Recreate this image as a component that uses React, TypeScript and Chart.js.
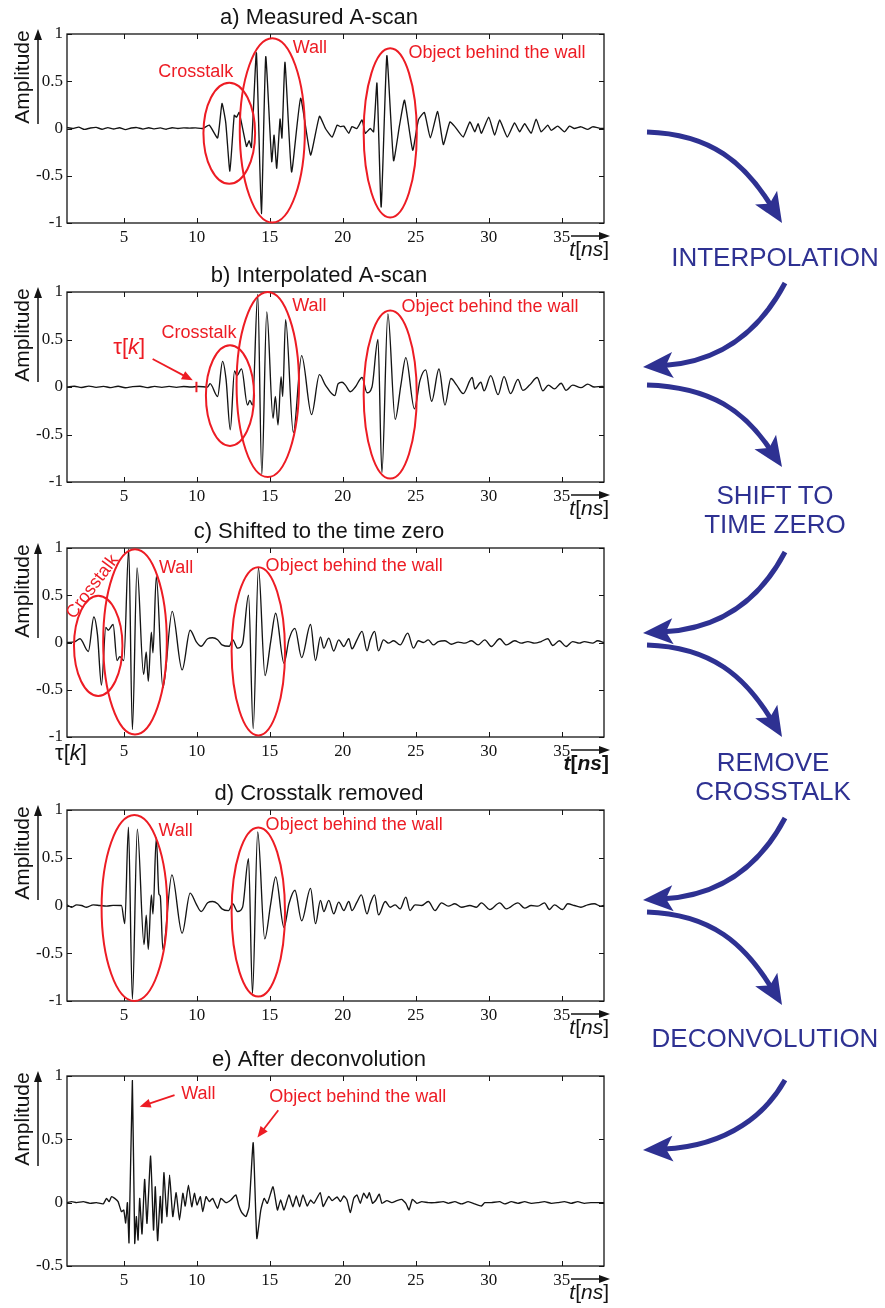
import React, { useEffect, useRef } from "react";
import { Chart, registerables } from "chart.js";

Chart.register(...registerables);

type Pt = [number, number];

const INK = "#141414";
const RED = "#ed1c24";
const BLUE = "#2e3192";
const SANS = '"Liberation Sans", Arial, Helvetica, sans-serif';
const SERIF = '"Liberation Serif", "Times New Roman", serif';

// Shared axis values (time in ns, normalised amplitude)
const timeTicks = [5, 10, 15, 20, 25, 30, 35];
const timeMin = 1.1;
const timeMax = 37.9;
const ampTicks = [-1, -0.5, 0, 0.5, 1];
const ampTicksDeconv = [-0.5, 0, 0.5, 1];

// a) raw measured A-scan: [time ns, amplitude]
const measuredScan: Pt[] = [
  [1.1, 0.01], [1.5, 0.0], [1.9, 0.015], [2.3, -0.01], [2.7, 0.005], [3.1, 0.012], [3.5, -0.008], [3.9, 0.01],
  [4.3, -0.005], [4.7, 0.008], [5.1, -0.012], [5.5, 0.005], [5.9, 0.01], [6.3, -0.006], [6.7, 0.008], [7.1, -0.004],
  [7.5, 0.006], [7.9, -0.008], [8.3, 0.008], [8.7, 0.0], [9.1, 0.006], [9.5, 0.004], [9.9, 0.006], [10.4, 0.0],
  [10.85, 0.035], [11.42, -0.1], [11.72, 0.265], [11.98, 0.06], [12.26, -0.45], [12.56, 0.14], [12.72, 0.12], [12.9, 0.17],
  [13.4, -0.19], [13.58, -0.13], [13.74, -0.2], [14.08, 0.8], [14.42, -0.9], [14.72, 0.76], [15.13, -0.35], [15.29, -0.07],
  [15.47, -0.42], [15.7, 0.1], [15.83, -0.1], [16.04, 0.7], [16.49, -0.46], [17.11, 0.32], [17.79, -0.28], [18.4, 0.13],
  [18.81, 0.0], [19.27, -0.09], [19.61, 0.035], [19.84, 0.02], [20.07, 0.025], [20.41, -0.05], [20.63, 0.02], [20.97, 0.0],
  [21.32, 0.09], [21.54, -0.05], [21.88, 0.0], [22.11, -0.035], [22.34, 0.48], [22.63, -0.83], [23.02, 0.77], [23.48, -0.34],
  [23.89, 0.035], [24.23, 0.3], [24.79, -0.23], [25.18, 0.09], [25.59, 0.17], [26.0, -0.1], [26.5, 0.18], [26.89, -0.17],
  [27.34, 0.07], [27.68, 0.02], [28.25, -0.09], [28.71, 0.07], [29.05, -0.035], [29.27, 0.05], [29.5, -0.05], [30.0, 0.12],
  [30.41, -0.07], [30.75, 0.09], [31.27, -0.09], [31.77, 0.06], [32.12, -0.035], [32.46, 0.05], [32.91, -0.05], [33.25, 0.1],
  [33.59, -0.035], [34.05, 0.035], [34.28, -0.02], [34.73, 0.025], [35.19, -0.035], [35.53, 0.025], [35.87, 0.0], [36.32, 0.018],
  [36.78, -0.01], [37.12, 0.018], [37.69, 0.0], [37.9, 0.0],
];

// b) interpolated A-scan
const interpolatedScan: Pt[] = [
  [1.1, 0.0], [1.6, 0.008], [2.1, -0.005], [2.6, 0.01], [3.1, -0.004], [3.6, 0.006], [4.1, -0.006], [4.6, 0.008],
  [5.1, -0.008], [5.6, 0.004], [6.1, 0.008], [6.6, -0.006], [7.1, 0.006], [7.6, -0.004], [8.1, 0.006], [8.6, -0.004],
  [9.1, 0.005], [9.6, 0.0], [10.1, 0.005], [10.74, 0.0], [10.9, 0.035], [11.42, -0.1], [11.76, 0.27], [12.0, 0.08],
  [12.29, -0.45], [12.58, 0.17], [12.74, 0.12], [13.06, 0.19], [13.47, -0.19], [13.63, -0.14], [13.81, -0.19], [14.17, 0.975],
  [14.45, -0.92], [14.79, 0.79], [15.22, -0.33], [15.38, -0.1], [15.56, -0.4], [15.77, 0.11], [15.88, -0.1], [16.08, 0.71],
  [16.61, -0.48], [17.18, 0.33], [17.86, -0.29], [18.4, 0.13], [18.81, 0.02], [19.45, -0.09], [19.68, 0.035], [19.95, 0.05],
  [20.18, 0.02], [20.52, -0.05], [20.86, 0.0], [21.32, 0.1], [21.66, -0.06], [22.0, 0.0], [22.41, 0.5], [22.68, -0.9],
  [23.09, 0.77], [23.59, -0.34], [23.98, 0.02], [24.32, 0.31], [24.91, -0.23], [25.29, 0.07], [25.68, 0.18], [26.09, -0.15],
  [26.59, 0.19], [27.0, -0.19], [27.41, 0.09], [27.8, 0.02], [28.25, -0.07], [28.87, 0.1], [29.05, -0.02], [29.46, 0.05],
  [29.68, -0.04], [30.14, 0.12], [30.64, -0.08], [31.05, 0.11], [31.5, -0.07], [32.0, 0.08], [32.34, -0.035], [32.8, 0.02],
  [33.32, 0.1], [33.71, -0.04], [34.09, 0.02], [34.5, -0.02], [34.96, 0.04], [35.3, -0.035], [35.75, 0.02], [36.32, -0.007],
  [36.78, 0.03], [37.23, 0.0], [37.8, 0.007], [37.9, 0.0],
];

// c) A-scan shifted so that time zero sits at tau[k]
const shiftedScan: Pt[] = [
  [1.1, 0.0], [1.65, 0.01], [1.99, 0.04], [2.56, -0.095], [2.94, 0.27], [3.19, 0.08], [3.46, -0.45], [3.76, 0.16],
  [3.92, 0.13], [4.26, 0.19], [4.53, -0.19], [4.72, -0.15], [4.99, -0.19], [5.33, 0.99], [5.58, -0.92], [5.9, 0.79],
  [6.35, -0.34], [6.53, -0.1], [6.67, -0.41], [6.88, 0.11], [6.99, -0.11], [7.22, 0.7], [7.67, -0.48], [8.31, 0.33],
  [8.99, -0.29], [9.54, 0.13], [9.95, 0.01], [10.29, -0.04], [10.74, 0.04], [11.08, 0.05], [11.42, 0.03], [11.72, -0.025],
  [12.22, -0.04], [12.45, 0.03], [12.79, -0.06], [13.13, -0.01], [13.54, 0.5], [13.86, -0.91], [14.22, 0.79], [14.67, -0.35],
  [15.06, 0.01], [15.4, 0.31], [15.97, -0.22], [16.31, 0.03], [16.72, 0.15], [17.18, -0.16], [17.79, 0.19], [18.13, -0.19],
  [18.47, 0.06], [18.7, -0.06], [19.04, 0.046], [19.38, -0.09], [19.72, 0.028], [20.07, -0.042], [20.41, 0.04], [20.63, -0.067],
  [20.97, 0.028], [21.32, 0.117], [21.66, -0.088], [21.88, 0.028], [22.18, 0.117], [22.45, -0.088], [22.79, 0.028], [23.13, -0.007],
  [23.48, 0.018], [23.93, -0.025], [24.45, 0.1], [24.84, -0.06], [25.18, 0.018], [25.52, 0.0], [25.86, 0.028], [26.2, -0.025],
  [26.55, 0.01], [27.0, 0.018], [27.45, -0.018], [27.91, 0.004], [28.36, -0.007], [28.82, 0.018], [29.27, -0.025], [29.73, 0.028],
  [30.18, -0.042], [30.75, 0.04], [31.21, -0.025], [31.78, 0.018], [32.23, -0.007], [32.68, 0.01], [33.14, -0.007], [33.59, 0.01],
  [34.05, 0.04], [34.39, -0.032], [34.84, 0.018], [35.3, -0.042], [35.75, 0.01], [36.21, -0.007], [36.55, 0.01], [37.12, -0.007],
  [37.46, 0.018], [37.9, 0.0],
];

// d) shifted A-scan with the crosstalk removed
const crosstalkFreeScan: Pt[] = [
  [1.1, 0.007], [1.42, -0.018], [1.76, 0.007], [2.1, 0.0], [2.44, -0.018], [2.9, 0.007], [3.35, 0.0], [3.81, -0.007],
  [4.26, 0.002], [4.83, 0.0], [5.06, -0.19], [5.31, 0.82], [5.58, -0.98], [5.92, 0.8], [6.38, -0.41], [6.53, -0.1],
  [6.67, -0.46], [6.88, 0.11], [6.99, -0.09], [7.22, 0.71], [7.4, 0.12], [7.49, 0.1], [7.67, -0.46], [8.29, 0.32],
  [8.99, -0.29], [9.54, 0.13], [9.95, 0.018], [10.29, -0.063], [10.74, 0.028], [11.08, 0.042], [11.42, 0.018], [11.72, -0.035],
  [12.17, -0.053], [12.45, 0.018], [12.79, -0.063], [13.13, -0.018], [13.54, 0.49], [13.81, -0.92], [14.17, 0.77], [14.65, -0.35],
  [15.06, 0.018], [15.4, 0.3], [15.97, -0.23], [16.31, 0.018], [16.72, 0.16], [17.18, -0.16], [17.79, 0.18], [18.13, -0.19],
  [18.47, 0.053], [18.7, -0.063], [19.04, 0.053], [19.38, -0.088], [19.72, 0.035], [20.07, -0.053], [20.41, 0.042], [20.63, -0.053],
  [20.97, 0.035], [21.27, 0.112], [21.66, -0.088], [21.88, 0.018], [22.18, 0.112], [22.45, -0.098], [22.91, 0.042], [23.25, -0.018],
  [23.59, 0.007], [23.93, -0.035], [24.32, 0.088], [24.61, -0.053], [24.95, 0.007], [25.41, 0.0], [25.86, 0.042], [26.32, -0.053],
  [26.77, 0.028], [27.23, -0.007], [27.68, 0.018], [28.14, -0.018], [28.71, 0.0], [29.16, -0.018], [29.5, 0.028], [30.07, -0.042],
  [30.75, 0.028], [31.21, -0.035], [32.0, 0.028], [32.46, -0.028], [32.91, 0.0], [33.37, -0.007], [33.82, 0.028], [34.16, -0.042],
  [34.5, 0.007], [35.07, -0.042], [35.41, 0.018], [35.87, 0.0], [36.32, -0.018], [36.78, 0.007], [37.23, 0.018], [37.69, -0.007],
  [37.9, 0.0],
];

// e) deconvolved trace
const deconvolvedScan: Pt[] = [
  [1.1, 0.0], [1.42, 0.008], [1.76, 0.0], [2.21, 0.008], [2.67, -0.005], [3.12, 0.0], [3.58, -0.01], [3.81, 0.034],
  [3.99, 0.008], [4.15, 0.047], [4.37, 0.034], [4.6, 0.008], [4.83, -0.071], [4.99, -0.058], [5.12, -0.16], [5.24, 0.0],
  [5.35, -0.316], [5.58, 0.963], [5.74, -0.321], [5.85, -0.11], [5.97, -0.295], [6.08, 0.034], [6.24, -0.247], [6.42, 0.184],
  [6.58, -0.163], [6.83, 0.368], [7.03, -0.216], [7.15, 0.126], [7.31, -0.3], [7.49, 0.05], [7.6, -0.16], [7.74, 0.237],
  [7.94, -0.11], [8.13, 0.218], [8.35, -0.11], [8.58, 0.079], [8.81, -0.137], [9.04, 0.074], [9.2, -0.026], [9.42, 0.139],
  [9.65, -0.032], [9.83, 0.074], [10.01, -0.018], [10.24, 0.047], [10.4, -0.071], [10.63, 0.047], [10.85, 0.008], [11.08, 0.034],
  [11.42, -0.045], [11.65, 0.034], [11.99, 0.0], [12.33, 0.021], [12.67, 0.061], [12.86, -0.018], [13.08, -0.079], [13.36, -0.11],
  [13.58, -0.032], [13.86, 0.474], [14.11, -0.282], [14.38, -0.058], [14.61, 0.034], [14.83, -0.005], [15.22, 0.126], [15.52, -0.058],
  [15.74, 0.021], [15.97, -0.058], [16.31, 0.061], [16.58, -0.032], [16.81, 0.053], [17.04, -0.032], [17.27, 0.061], [17.56, -0.026],
  [17.79, 0.021], [18.02, -0.005], [18.45, 0.079], [18.65, -0.03], [18.85, 0.01], [19.04, 0.05], [19.27, 0.016], [19.61, 0.045],
  [19.84, 0.008], [20.07, 0.053], [20.29, 0.021], [20.52, -0.079], [20.75, 0.034], [20.97, 0.061], [21.2, -0.005], [21.43, 0.074],
  [21.66, 0.034], [21.82, 0.079], [22.04, -0.005], [22.27, 0.021], [22.5, 0.068], [22.68, -0.005], [23.02, 0.016], [23.36, 0.0],
  [23.7, 0.016], [24.04, 0.026], [24.32, -0.005], [24.54, -0.058], [24.77, 0.026], [25.07, -0.005], [25.41, 0.008], [25.86, 0.0],
  [26.32, 0.0], [26.89, 0.008], [27.23, -0.005], [27.68, 0.008], [28.14, -0.01], [28.59, 0.008], [29.05, -0.01], [29.5, -0.026],
  [29.73, 0.0], [30.18, 0.0], [30.75, 0.008], [31.09, -0.01], [31.55, 0.008], [32.0, -0.005], [32.46, 0.008], [32.91, -0.005],
  [33.37, 0.0], [33.82, 0.008], [34.28, -0.005], [34.73, 0.0], [35.19, 0.008], [35.64, -0.005], [36.1, 0.008], [36.55, -0.005],
  [37.0, 0.0], [37.69, 0.0], [37.9, 0.0],
];

// Annotation shapes, all in data units (time, amplitude)
interface Ring { t: number; amp: number; rt: number; ra: number }
interface Note { text: string; t: number; amp: number; angle?: number }
interface Pointer { from: Pt; to: Pt }

interface PanelSpec {
  title: string;
  series: Pt[];
  smooth: boolean;
  plotTop: number;
  plotBottom: number;
  ampMin: number;
  ampMax: number;
  yTicks: number[];
  rings: Ring[];
  notes: Note[];
  pointers: Pointer[];
  tauMark?: number;
  tauNote?: Pt;
  tauAtOrigin?: boolean;
  boldUnit?: boolean;
}

const panels: PanelSpec[] = [
  {
    title: "a) Measured A-scan",
    series: measuredScan,
    smooth: false,
    plotTop: 34,
    plotBottom: 223,
    ampMin: -1,
    ampMax: 1,
    yTicks: ampTicks,
    rings: [
      { t: 12.22, amp: -0.05, rt: 1.77, ra: 0.535 },
      { t: 15.17, amp: -0.02, rt: 2.23, ra: 0.975 },
      { t: 23.25, amp: -0.047, rt: 1.82, ra: 0.895 },
    ],
    notes: [
      { text: "Crosstalk", t: 9.93, amp: 0.6 },
      { text: "Wall", t: 17.74, amp: 0.85 },
      { text: "Object behind the wall", t: 30.57, amp: 0.8 },
    ],
    pointers: [],
  },
  {
    title: "b) Interpolated A-scan",
    series: interpolatedScan,
    smooth: true,
    plotTop: 292,
    plotBottom: 482,
    ampMin: -1,
    ampMax: 1,
    yTicks: ampTicks,
    rings: [
      { t: 12.27, amp: -0.09, rt: 1.65, ra: 0.53 },
      { t: 14.86, amp: 0.026, rt: 2.14, ra: 0.974 },
      { t: 23.25, amp: -0.08, rt: 1.82, ra: 0.884 },
    ],
    notes: [
      { text: "Crosstalk", t: 10.14, amp: 0.565 },
      { text: "Wall", t: 17.71, amp: 0.85 },
      { text: "Object behind the wall", t: 30.09, amp: 0.845 },
    ],
    pointers: [{ from: [6.97, 0.295], to: [9.72, 0.07] }],
    tauMark: 9.97,
    tauNote: [5.36, 0.41],
  },
  {
    title: "c) Shifted to the time zero",
    series: shiftedScan,
    smooth: true,
    plotTop: 548,
    plotBottom: 737,
    ampMin: -1,
    ampMax: 1,
    yTicks: ampTicks,
    rings: [
      { t: 3.24, amp: -0.035, rt: 1.66, ra: 0.53 },
      { t: 5.76, amp: 0.006, rt: 2.18, ra: 0.98 },
      { t: 14.21, amp: -0.093, rt: 1.83, ra: 0.89 },
    ],
    notes: [
      { text: "Crosstalk", t: 2.85, amp: 0.59, angle: -53 },
      { text: "Wall", t: 8.58, amp: 0.79 },
      { text: "Object behind the wall", t: 20.78, amp: 0.81 },
    ],
    pointers: [],
    tauAtOrigin: true,
    boldUnit: true,
  },
  {
    title: "d) Crosstalk removed",
    series: crosstalkFreeScan,
    smooth: true,
    plotTop: 810,
    plotBottom: 1001,
    ampMin: -1,
    ampMax: 1,
    yTicks: ampTicks,
    rings: [
      { t: 5.72, amp: -0.026, rt: 2.25, ra: 0.974 },
      { t: 14.21, amp: -0.068, rt: 1.83, ra: 0.886 },
    ],
    notes: [
      { text: "Wall", t: 8.54, amp: 0.78 },
      { text: "Object behind the wall", t: 20.78, amp: 0.845 },
    ],
    pointers: [],
  },
  {
    title: "e) After deconvolution",
    series: deconvolvedScan,
    smooth: false,
    plotTop: 1076,
    plotBottom: 1266,
    ampMin: -0.5,
    ampMax: 1,
    yTicks: ampTicksDeconv,
    rings: [],
    notes: [
      { text: "Wall", t: 10.1, amp: 0.857 },
      { text: "Object behind the wall", t: 21.02, amp: 0.834 },
    ],
    pointers: [
      { from: [8.47, 0.849], to: [6.08, 0.757] },
      { from: [15.58, 0.73], to: [14.15, 0.515] },
    ],
  },
];

// Processing-step flow on the right side
const flowSteps = [
  { lines: ["INTERPOLATION"], x: 775, y: 257 },
  { lines: ["SHIFT TO", "TIME ZERO"], x: 775, y: 495 },
  { lines: ["REMOVE", "CROSSTALK"], x: 773, y: 762 },
  { lines: ["DECONVOLUTION"], x: 765, y: 1038 },
];

interface FlowArrow { from: Pt; c1: Pt; c2: Pt; tip: Pt }
const flowArrows: FlowArrow[] = [
  { from: [647, 132], c1: [712, 134], c2: [745, 164], tip: [782, 223] },
  { from: [785, 283], c1: [765, 321], c2: [730, 361], tip: [643, 367] },
  { from: [647, 385], c1: [712, 387], c2: [745, 412], tip: [782, 467] },
  { from: [785, 552], c1: [765, 590], c2: [730, 628], tip: [643, 633] },
  { from: [647, 645], c1: [712, 647], c2: [745, 677], tip: [782, 737] },
  { from: [785, 818], c1: [765, 856], c2: [730, 895], tip: [643, 900] },
  { from: [647, 912], c1: [712, 914], c2: [745, 945], tip: [782, 1005] },
  { from: [785, 1080], c1: [767, 1112], c2: [730, 1146], tip: [643, 1150] },
];

const CANVAS_W = 620;
const PLOT_LEFT = 67;
const PLOT_RIGHT = 604;
const HEAD_ROOM = 36;
const FOOT_ROOM = 46;

type Style = "n" | "i" | "b" | "bi";

function richText(
  ctx: CanvasRenderingContext2D,
  parts: [string, Style][],
  x: number,
  y: number,
  align: "left" | "center" | "right",
  size: number,
  color: string
) {
  const fontFor = (s: Style) =>
    `${s.includes("i") ? "italic " : ""}${s.includes("b") ? "bold " : ""}${size}px ${SANS}`;
  let total = 0;
  const widths = parts.map(([t, s]) => {
    ctx.font = fontFor(s);
    const w = ctx.measureText(t).width;
    total += w;
    return w;
  });
  let cx = align === "left" ? x : align === "center" ? x - total / 2 : x - total;
  ctx.textAlign = "left";
  ctx.textBaseline = "middle";
  ctx.fillStyle = color;
  parts.forEach(([t, s], i) => {
    ctx.font = fontFor(s);
    ctx.fillText(t, cx, y);
    cx += widths[i];
  });
}

function arrowLine(
  ctx: CanvasRenderingContext2D,
  x1: number,
  y1: number,
  x2: number,
  y2: number,
  head: number,
  half: number,
  width: number,
  color: string
) {
  const dx = x2 - x1;
  const dy = y2 - y1;
  const len = Math.hypot(dx, dy) || 1;
  const ux = dx / len;
  const uy = dy / len;
  const bx = x2 - ux * head;
  const by = y2 - uy * head;
  ctx.strokeStyle = color;
  ctx.lineWidth = width;
  ctx.beginPath();
  ctx.moveTo(x1, y1);
  ctx.lineTo(bx + ux, by + uy);
  ctx.stroke();
  ctx.fillStyle = color;
  ctx.beginPath();
  ctx.moveTo(x2, y2);
  ctx.lineTo(bx - uy * half, by + ux * half);
  ctx.lineTo(bx + uy * half, by - ux * half);
  ctx.closePath();
  ctx.fill();
}

function decorFor(spec: PanelSpec) {
  return {
    id: "decor",
    afterDraw(chart: Chart) {
      const ctx = chart.ctx;
      const { left, right, top, bottom } = chart.chartArea;
      const xs = chart.scales.x;
      const ys = chart.scales.y;
      const X = (t: number) => xs.getPixelForValue(t);
      const Y = (a: number) => ys.getPixelForValue(a);
      ctx.save();

      // boxed frame with inward ticks on all four sides
      ctx.strokeStyle = INK;
      ctx.lineWidth = 1.3;
      ctx.strokeRect(left, top, right - left, bottom - top);
      ctx.lineWidth = 1;
      ctx.beginPath();
      timeTicks.forEach((t) => {
        const x = Math.round(X(t)) + 0.5;
        ctx.moveTo(x, bottom);
        ctx.lineTo(x, bottom - 5);
        ctx.moveTo(x, top);
        ctx.lineTo(x, top + 5);
      });
      spec.yTicks.forEach((a) => {
        const y = Math.round(Y(a)) + 0.5;
        ctx.moveTo(left, y);
        ctx.lineTo(left + 5, y);
        ctx.moveTo(right, y);
        ctx.lineTo(right - 5, y);
      });
      ctx.stroke();

      // panel title
      ctx.fillStyle = INK;
      ctx.font = `22px ${SANS}`;
      ctx.textAlign = "center";
      ctx.textBaseline = "middle";
      ctx.fillText(spec.title, 319, top - 16);

      // vertical axis caption with its arrow
      ctx.save();
      ctx.translate(23, top + 43);
      ctx.rotate(-Math.PI / 2);
      ctx.font = `21px ${SANS}`;
      ctx.fillText("Amplitude", 0, 0);
      ctx.restore();
      arrowLine(ctx, 38, top + 90, 38, top - 5, 11, 4, 1.5, INK);

      // time axis arrow and unit
      arrowLine(ctx, 571, bottom + 13, 610, bottom + 13, 11, 4, 1.5, INK);
      const b = spec.boldUnit;
      richText(
        ctx,
        [["t", b ? "bi" : "i"], ["[", b ? "b" : "n"], ["ns", b ? "bi" : "i"], ["]", b ? "b" : "n"]],
        609,
        bottom + 27,
        "right",
        21,
        INK
      );

      // red highlight rings
      ctx.strokeStyle = RED;
      ctx.lineWidth = 2;
      spec.rings.forEach((r) => {
        ctx.beginPath();
        ctx.ellipse(X(r.t), Y(r.amp), X(r.t + r.rt) - X(r.t), Y(r.amp) - Y(r.amp + r.ra), 0, 0, Math.PI * 2);
        ctx.stroke();
      });

      // red notes
      ctx.fillStyle = RED;
      ctx.font = `18px ${SANS}`;
      ctx.textAlign = "center";
      ctx.textBaseline = "middle";
      spec.notes.forEach((n) => {
        ctx.save();
        ctx.translate(X(n.t), Y(n.amp));
        if (n.angle) ctx.rotate((n.angle * Math.PI) / 180);
        ctx.fillText(n.text, 0, 0);
        ctx.restore();
      });
      spec.pointers.forEach((p) =>
        arrowLine(ctx, X(p.from[0]), Y(p.from[1]), X(p.to[0]), Y(p.to[1]), 11, 4.5, 1.8, RED)
      );

      const tauParts: [string, Style][] = [["τ", "n"], ["[", "n"], ["k", "i"], ["]", "n"]];
      if (spec.tauMark !== undefined) {
        ctx.strokeStyle = RED;
        ctx.lineWidth = 2;
        ctx.beginPath();
        ctx.moveTo(X(spec.tauMark), Y(0.055));
        ctx.lineTo(X(spec.tauMark), Y(-0.055));
        ctx.stroke();
      }
      if (spec.tauNote) richText(ctx, tauParts, X(spec.tauNote[0]), Y(spec.tauNote[1]), "center", 22, RED);
      if (spec.tauAtOrigin) richText(ctx, tauParts, left + 4, bottom + 17, "center", 22, INK);

      ctx.restore();
    },
  };
}

function ScanPanel({ spec }: { spec: PanelSpec }) {
  const ref = useRef<HTMLCanvasElement | null>(null);
  const height = HEAD_ROOM + (spec.plotBottom - spec.plotTop) + FOOT_ROOM;

  useEffect(() => {
    const canvas = ref.current;
    if (!canvas) return;
    const tickFont = { family: SERIF, size: 17 };
    const chart = new Chart(canvas, {
      type: "line",
      data: {
        datasets: [
          {
            data: spec.series.map(([t, a]) => ({ x: t, y: a })),
            borderColor: INK,
            borderWidth: 1.35,
            pointRadius: 0,
            fill: false,
            tension: spec.smooth ? 0 : 0.15,
            cubicInterpolationMode: spec.smooth ? "monotone" : "default",
          },
        ],
      },
      options: {
        responsive: false,
        animation: false,
        events: [],
        layout: { padding: { top: HEAD_ROOM, left: 0, right: CANVAS_W - PLOT_RIGHT, bottom: 0 } },
        plugins: {
          legend: { display: false },
          tooltip: { enabled: false },
          title: { display: false },
        },
        scales: {
          x: {
            type: "linear",
            min: timeMin,
            max: timeMax,
            grid: { display: false, drawTicks: false },
            border: { display: false },
            ticks: {
              padding: 4,
              font: tickFont,
              color: INK,
              maxRotation: 0,
              autoSkip: false,
              callback: (v: any) => String(v),
            },
            afterBuildTicks: (s: any) => {
              s.ticks = timeTicks.map((v) => ({ value: v }));
            },
            afterFit: (s: any) => {
              s.height = FOOT_ROOM;
            },
          },
          y: {
            type: "linear",
            min: spec.ampMin,
            max: spec.ampMax,
            grid: { display: false, drawTicks: false },
            border: { display: false },
            ticks: {
              padding: 4,
              font: tickFont,
              color: INK,
              autoSkip: false,
              callback: (v: any) => String(v),
            },
            afterBuildTicks: (s: any) => {
              s.ticks = spec.yTicks.map((v) => ({ value: v }));
            },
            afterFit: (s: any) => {
              s.width = PLOT_LEFT;
            },
          },
        },
      },
      plugins: [decorFor(spec)],
    } as any);
    return () => chart.destroy();
  }, [spec]);

  return (
    <canvas
      ref={ref}
      width={CANVAS_W}
      height={height}
      style={{ position: "absolute", left: 0, top: spec.plotTop - HEAD_ROOM, width: CANVAS_W, height }}
    />
  );
}

function headPoints(a: FlowArrow, len = 30, half = 13, notch = 7) {
  const [tx, ty] = a.tip;
  const dx = tx - a.c2[0];
  const dy = ty - a.c2[1];
  const d = Math.hypot(dx, dy);
  const ux = dx / d;
  const uy = dy / d;
  const bx = tx - ux * len;
  const by = ty - uy * len;
  const nx = tx - ux * (len - notch);
  const ny = ty - uy * (len - notch);
  return {
    poly: `${tx},${ty} ${bx - uy * half},${by + ux * half} ${nx},${ny} ${bx + uy * half},${by - ux * half}`,
    end: [nx + ux * 2, ny + uy * 2] as Pt,
  };
}

function FlowDiagram() {
  return (
    <svg
      width={885}
      height={1308}
      style={{ position: "absolute", left: 0, top: 0, pointerEvents: "none" }}
    >
      {flowArrows.map((a, i) => {
        const h = headPoints(a);
        return (
          <g key={i}>
            <path
              d={`M${a.from[0]},${a.from[1]} C${a.c1[0]},${a.c1[1]} ${a.c2[0]},${a.c2[1]} ${h.end[0]},${h.end[1]}`}
              fill="none"
              stroke={BLUE}
              strokeWidth={5}
            />
            <polygon points={h.poly} fill={BLUE} />
          </g>
        );
      })}
      {flowSteps.map((s, i) => (
        <text
          key={i}
          x={s.x}
          textAnchor="middle"
          fill={BLUE}
          style={{ fontFamily: SANS, fontSize: 26 }}
        >
          {s.lines.map((line, j) => (
            <tspan key={j} x={s.x} y={s.y + j * 28.5 + 9}>
              {line}
            </tspan>
          ))}
        </text>
      ))}
    </svg>
  );
}

export default function App() {
  return (
    <div style={{ position: "absolute", left: 0, top: 0, width: 885, height: 1308, background: "#fff" }}>
      {panels.map((p) => (
        <ScanPanel key={p.title} spec={p} />
      ))}
      <FlowDiagram />
    </div>
  );
}
